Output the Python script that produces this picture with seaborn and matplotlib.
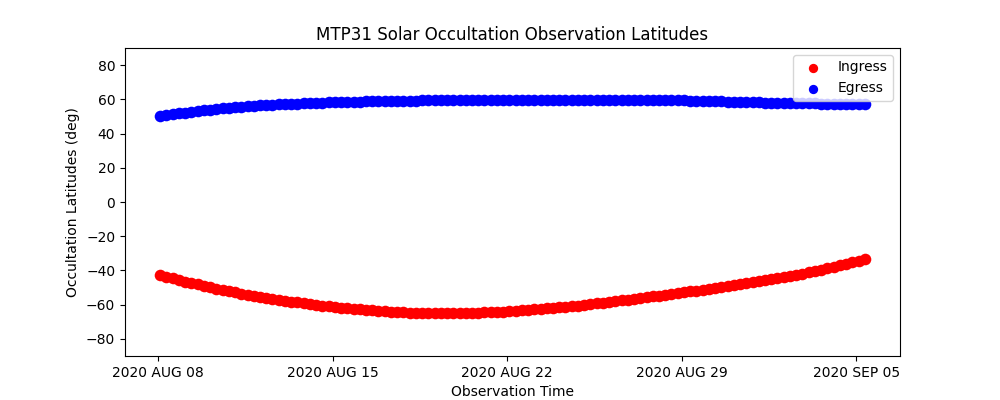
import pandas as pd
import seaborn as sns
import matplotlib.pyplot as plt
import matplotlib.dates as mdates

# observation times: one occultation read every 6 hours from the plot
obs_times = pd.date_range("2020-08-08 02:00", periods=114, freq="6h")

ingress_lat = [
    -42.8, -43.8, -44.7, -45.6, -46.5, -47.4, -48.2, -49.0,
    -49.8, -50.6, -51.3, -52.1, -52.8, -53.5, -54.1, -54.8,
    -55.4, -56.0, -56.6, -57.1, -57.7, -58.2, -58.7, -59.2,
    -59.7, -60.1, -60.6, -61.0, -61.4, -61.8, -62.1, -62.5,
    -62.8, -63.1, -63.4, -63.7, -63.9, -64.1, -64.3, -64.5,
    -64.6, -64.7, -64.8, -64.9, -64.9, -65.0, -65.0, -65.0,
    -64.9, -64.9, -64.8, -64.7, -64.5, -64.4, -64.2, -64.0,
    -63.8, -63.6, -63.3, -63.1, -62.8, -62.5, -62.2, -61.9,
    -61.6, -61.2, -60.9, -60.5, -60.1, -59.7, -59.3, -58.8,
    -58.4, -58.0, -57.5, -57.1, -56.6, -56.1, -55.7, -55.2,
    -54.7, -54.2, -53.8, -53.3, -52.8, -52.3, -51.8, -51.2,
    -50.7, -50.2, -49.6, -49.1, -48.5, -47.9, -47.4, -46.8,
    -46.2, -45.6, -45.0, -44.4, -43.8, -43.1, -42.5, -41.8,
    -41.1, -40.4, -39.6, -38.8, -38.0, -37.1, -36.2, -35.3,
    -34.4, -33.5,
]

egress_lat = [
    50.4, 50.9, 51.4, 51.8, 52.3, 52.7, 53.2, 53.6,
    54.0, 54.4, 54.7, 55.1, 55.4, 55.7, 55.9, 56.2,
    56.4, 56.6, 56.8, 57.0, 57.2, 57.4, 57.5, 57.7,
    57.8, 57.9, 58.1, 58.2, 58.3, 58.4, 58.5, 58.6,
    58.7, 58.8, 58.8, 58.9, 59.0, 59.1, 59.1, 59.2,
    59.3, 59.3, 59.4, 59.4, 59.5, 59.5, 59.5, 59.6,
    59.6, 59.7, 59.7, 59.7, 59.7, 59.7, 59.7, 59.7,
    59.7, 59.7, 59.7, 59.7, 59.7, 59.7, 59.7, 59.7,
    59.7, 59.7, 59.7, 59.7, 59.7, 59.7, 59.7, 59.7,
    59.7, 59.7, 59.7, 59.7, 59.7, 59.7, 59.7, 59.7,
    59.7, 59.7, 59.6, 59.5, 59.4, 59.3, 59.2, 59.1,
    59.0, 58.9, 58.8, 58.7, 58.6, 58.5, 58.4, 58.3,
    58.2, 58.1, 58.0, 58.0, 57.9, 57.8, 57.8, 57.7,
    57.6, 57.6, 57.5, 57.5, 57.4, 57.4, 57.3, 57.3,
    57.2, 57.1,
]

tick_dates = pd.to_datetime(["2020-08-08", "2020-08-15", "2020-08-22", "2020-08-29", "2020-09-05"])
tick_labels = ["2020 AUG 08", "2020 AUG 15", "2020 AUG 22", "2020 AUG 29", "2020 SEP 05"]

df = pd.DataFrame({"time": obs_times, "ingress": ingress_lat, "egress": egress_lat})

fig, ax = plt.subplots(figsize=(10, 4), dpi=100)
sns.scatterplot(data=df, x="time", y="ingress", color="red", s=70, linewidth=0, label="Ingress", ax=ax)
sns.scatterplot(data=df, x="time", y="egress", color="blue", s=70, linewidth=0, label="Egress", ax=ax)

ax.set_ylim(-90, 90)
ax.set_yticks(range(-80, 81, 20))
ax.set_xticks(mdates.date2num(tick_dates))
ax.set_xticklabels(tick_labels)
ax.set_title("MTP31 Solar Occultation Observation Latitudes")
ax.set_xlabel("Observation Time")
ax.set_ylabel("Occultation Latitudes (deg)")
# legend dots a bit smaller than the plotted ones, like the reference
ax.legend(loc="upper right", markerscale=0.8)

plt.savefig("out.png")
